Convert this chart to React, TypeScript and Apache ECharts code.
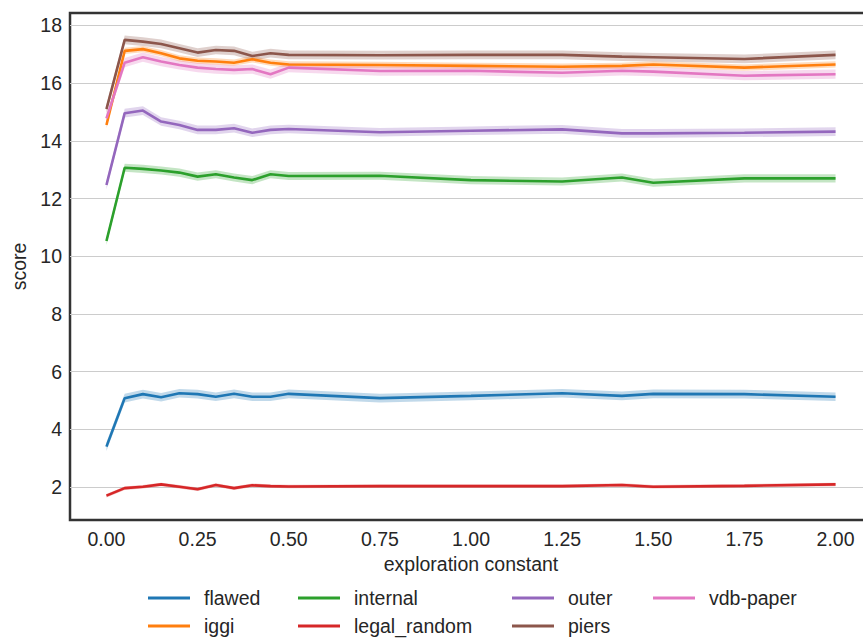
import React, { useEffect, useRef } from "react";
import * as echarts from "echarts";

const xValues = [0, 0.05, 0.1, 0.15, 0.2, 0.25, 0.3, 0.35, 0.4, 0.45, 0.5, 0.75, 1.0, 1.25, 1.414, 1.5, 1.75, 2.0];

const flawed = [3.40, 5.08, 5.22, 5.11, 5.25, 5.22, 5.13, 5.23, 5.13, 5.13, 5.23, 5.08, 5.16, 5.25, 5.16, 5.23, 5.22, 5.13];
const iggi = [14.55, 17.12, 17.18, 17.04, 16.86, 16.78, 16.75, 16.71, 16.83, 16.71, 16.65, 16.63, 16.60, 16.57, 16.60, 16.65, 16.54, 16.65];
const internal = [10.53, 13.07, 13.03, 12.97, 12.90, 12.76, 12.84, 12.73, 12.64, 12.84, 12.78, 12.79, 12.64, 12.59, 12.73, 12.55, 12.70, 12.70];
const legalRandom = [1.70, 1.96, 2.01, 2.09, 2.01, 1.92, 2.07, 1.96, 2.06, 2.03, 2.02, 2.03, 2.03, 2.03, 2.07, 2.01, 2.04, 2.09];
const outer = [12.47, 14.96, 15.05, 14.67, 14.55, 14.38, 14.38, 14.44, 14.28, 14.38, 14.41, 14.30, 14.35, 14.40, 14.26, 14.26, 14.28, 14.32];
const piers = [15.10, 17.50, 17.44, 17.36, 17.21, 17.06, 17.15, 17.12, 16.94, 17.04, 16.98, 16.97, 16.98, 16.98, 16.92, 16.90, 16.84, 16.98];
const vdbPaper = [14.78, 16.71, 16.90, 16.75, 16.63, 16.54, 16.49, 16.46, 16.49, 16.31, 16.54, 16.42, 16.43, 16.36, 16.43, 16.40, 16.26, 16.31];

// half-width of the shaded confidence band for each series
const bandHalfWidth = {
  flawed: 0.15,
  iggi: 0.11,
  internal: 0.14,
  legal_random: 0.06,
  outer: 0.15,
  piers: 0.15,
  "vdb-paper": 0.16,
};

const xTicks = [0, 0.25, 0.5, 0.75, 1.0, 1.25, 1.5, 1.75, 2.0];
const yTicks = [2, 4, 6, 8, 10, 12, 14, 16, 18];

const seriesDefs = [
  { name: "flawed", values: flawed, color: "#1f77b4" },
  { name: "iggi", values: iggi, color: "#ff7f0e" },
  { name: "internal", values: internal, color: "#2ca02c" },
  { name: "legal_random", values: legalRandom, color: "#d62728" },
  { name: "outer", values: outer, color: "#9467bd" },
  { name: "piers", values: piers, color: "#8c564b" },
  { name: "vdb-paper", values: vdbPaper, color: "#e377c2" },
];

const legendColumns = [
  { left: 148, names: ["flawed", "iggi"] },
  { left: 298, names: ["internal", "legal_random"] },
  { left: 512, names: ["outer", "piers"] },
  { left: 653, names: ["vdb-paper"] },
];

const FONT = "'Liberation Sans', Arial, sans-serif";
const TEXT = "#262626";
const FS = 19.5;

export default function App() {
  const ref = useRef<HTMLDivElement>(null);

  useEffect(() => {
    if (!ref.current) return;
    const chart = echarts.init(ref.current, null, { renderer: "svg" });

    const bandSeries = seriesDefs.map((s) => {
      const hw = (bandHalfWidth as any)[s.name] as number;
      const rows = xValues.map((x, i) => [x, s.values[i] - hw, s.values[i] + hw]);
      return {
        type: "custom",
        name: s.name + " band",
        silent: true,
        z: 1,
        data: rows,
        encode: { x: 0, y: [1, 2] },
        renderItem: (params: any, api: any) => {
          if (params.dataIndex !== 0) return { type: "group", children: [] };
          const pts: number[][] = [];
          for (let i = 0; i < rows.length; i++) pts.push(api.coord([rows[i][0], rows[i][2]]));
          for (let i = rows.length - 1; i >= 0; i--) pts.push(api.coord([rows[i][0], rows[i][1]]));
          return {
            type: "polygon",
            shape: { points: pts },
            style: { fill: s.color, opacity: 0.28 },
          };
        },
      };
    });

    const lineSeries = seriesDefs.map((s) => ({
      type: "line",
      name: s.name,
      data: xValues.map((x, i) => [x, s.values[i]]),
      showSymbol: false,
      symbol: "none",
      color: s.color,
      lineStyle: { color: s.color, width: 2.6 },
      z: 3,
    }));

    chart.setOption({
      animation: false,
      textStyle: { fontFamily: FONT },
      grid: {
        left: 70,
        top: 13,
        width: 802,
        height: 507,
        show: true,
        borderColor: "#333333",
        borderWidth: 2.5,
        backgroundColor: "#ffffff",
      },
      legend: legendColumns.map((c) => ({
        data: c.names,
        orient: "vertical",
        left: c.left,
        top: 588,
        padding: 0,
        itemWidth: 42,
        itemHeight: 3,
        itemGap: 8,
        icon: "rect",
        textStyle: { fontSize: FS, color: TEXT, fontFamily: FONT, padding: [0, 0, 0, 9] },
      })),
      xAxis: {
        type: "value",
        min: -0.1,
        max: 2.1,
        name: "exploration constant",
        nameLocation: "middle",
        nameGap: 34,
        nameTextStyle: { fontSize: FS, color: TEXT, fontFamily: FONT },
        axisLine: { show: false },
        axisTick: { show: false, customValues: xTicks },
        splitLine: { show: false },
        axisLabel: {
          customValues: xTicks,
          fontSize: FS,
          color: TEXT,
          fontFamily: FONT,
          margin: 9,
          formatter: (v: number) => v.toFixed(2),
        },
      },
      yAxis: {
        type: "value",
        min: 0.856,
        max: 18.433,
        name: "score",
        nameLocation: "middle",
        nameGap: 40,
        nameTextStyle: { fontSize: FS, color: TEXT, fontFamily: FONT },
        axisLine: { show: false },
        axisTick: { show: false, customValues: yTicks },
        splitLine: { show: true, lineStyle: { color: "#cccccc", width: 1 } },
        axisLabel: {
          customValues: yTicks,
          fontSize: FS,
          color: TEXT,
          fontFamily: FONT,
          margin: 8,
          formatter: (v: number) => String(v),
        },
      },
      series: [...bandSeries, ...lineSeries],
    });

    return () => chart.dispose();
  }, []);

  return (
    <div
      style={{
        position: "absolute",
        left: 0,
        top: 0,
        width: 863,
        height: 638,
        overflow: "hidden",
        background: "#fff",
      }}
    >
      <div ref={ref} style={{ width: 885, height: 638 }} />
    </div>
  );
}
